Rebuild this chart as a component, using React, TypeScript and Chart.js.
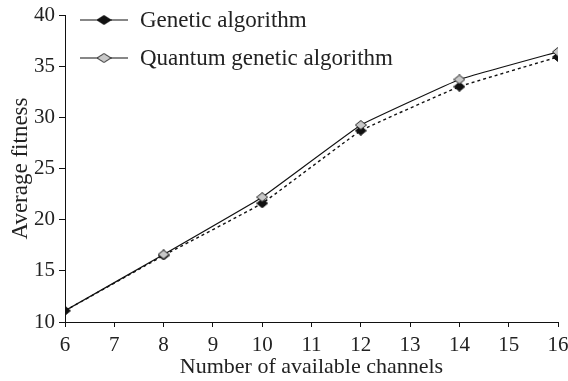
import React, { useEffect, useRef } from "react";
import Chart from "chart.js/auto";

const channels = [6, 8, 10, 12, 14, 16];
const gaValues = [11.1, 16.5, 21.6, 28.7, 33.0, 35.9];
const qgaValues = [11.1, 16.6, 22.2, 29.25, 33.7, 36.4];
const seriesLabels = ["Genetic algorithm", "Quantum genetic algorithm"];
const xTitle = "Number of available channels";
const yTitle = "Average fitness";

const FONT = "'Liberation Serif', 'Times New Roman', serif";

function makeDiamond(w: number, h: number, fill: string, stroke: string) {
  const c = document.createElement("canvas");
  c.width = w;
  c.height = h;
  const ctx = c.getContext("2d")!;
  ctx.beginPath();
  ctx.moveTo(w / 2, 0.5);
  ctx.lineTo(w - 0.5, h / 2);
  ctx.lineTo(w / 2, h - 0.5);
  ctx.lineTo(0.5, h / 2);
  ctx.closePath();
  ctx.fillStyle = fill;
  ctx.fill();
  ctx.strokeStyle = stroke;
  ctx.lineWidth = 1;
  ctx.stroke();
  return c;
}

export default function App() {
  const ref = useRef<HTMLCanvasElement | null>(null);
  useEffect(() => {
    if (!ref.current) return;
    const blackPt = makeDiamond(12, 10, "#111", "#111");
    const grayPt = makeDiamond(12, 10, "#c8c8c8", "#222");
    const blackLeg = makeDiamond(15, 10, "#111", "#111");
    const grayLeg = makeDiamond(15, 10, "#c8c8c8", "#222");

    const legendPlugin = {
      id: "customLegend",
      afterDraw(chart: any) {
        const ctx = chart.ctx;
        const items = [
          { y: 20, img: blackLeg, text: seriesLabels[0] },
          { y: 58, img: grayLeg, text: seriesLabels[1] },
        ];
        ctx.save();
        for (const it of items) {
          ctx.beginPath();
          ctx.strokeStyle = "#111";
          ctx.lineWidth = 1.2;
          ctx.moveTo(80, it.y);
          ctx.lineTo(128, it.y);
          ctx.stroke();
          ctx.drawImage(it.img, 104 - it.img.width / 2, it.y - it.img.height / 2);
          ctx.fillStyle = "#222";
          ctx.font = `23px ${FONT}`;
          ctx.textBaseline = "middle";
          ctx.textAlign = "left";
          ctx.fillText(it.text, 140, it.y + 1);
        }
        ctx.restore();
      },
    };

    const chart = new Chart(ref.current, {
      type: "line",
      data: {
        datasets: [
          {
            label: seriesLabels[1],
            data: channels.map((x, i) => ({ x, y: qgaValues[i] })),
            borderColor: "#111",
            borderWidth: 1.2,
            pointStyle: [null, grayPt, grayPt, grayPt, grayPt, grayPt].map((p) => p || false) as any,
            pointRadius: 5,
            tension: 0.07,
            order: 0,
          },
          {
            label: seriesLabels[0],
            data: channels.map((x, i) => ({ x, y: gaValues[i] })),
            borderColor: "#111",
            borderWidth: 1.4,
            borderDash: [3, 3],
            pointStyle: blackPt as any,
            pointRadius: 5,
            tension: 0.07,
            order: 1,
          },
        ],
      },
      options: {
        responsive: false,
        animation: false,
        layout: { padding: { top: 15, right: 10, left: 0, bottom: 0 } },
        plugins: { legend: { display: false }, tooltip: { enabled: false } },
        scales: {
          x: {
            type: "linear",
            min: 6,
            max: 16,
            ticks: { stepSize: 1, color: "#222", font: { family: FONT, size: 21 }, padding: 6 },
            grid: { drawOnChartArea: false, drawTicks: true, tickLength: 5, color: "#111" },
            border: { display: true, color: "#111", width: 1 },
            title: { display: true, text: xTitle, color: "#222", font: { family: FONT, size: 22 }, padding: 1 },
            afterFit: (s: any) => { s.height = 59; s.paddingLeft = 0; s.paddingRight = 0; },
          },
          y: {
            type: "linear",
            min: 10,
            max: 40,
            ticks: { stepSize: 5, color: "#222", font: { family: FONT, size: 21 }, padding: 4 },
            grid: { drawOnChartArea: false, drawTicks: true, tickLength: 6, color: "#111" },
            border: { display: true, color: "#111", width: 1 },
            title: { display: true, text: yTitle, color: "#222", font: { family: FONT, size: 23 }, padding: 7 },
            afterFit: (s: any) => { s.width = 65; s.paddingTop = 0; s.paddingBottom = 0; },
          },
        },
      },
      plugins: [legendPlugin],
    });
    return () => chart.destroy();
  }, []);
  return (
    <div style={{ position: "absolute", left: 0, top: 0, width: 568, height: 381, background: "#fff" }}>
      <canvas ref={ref} width={568} height={381} />
    </div>
  );
}
